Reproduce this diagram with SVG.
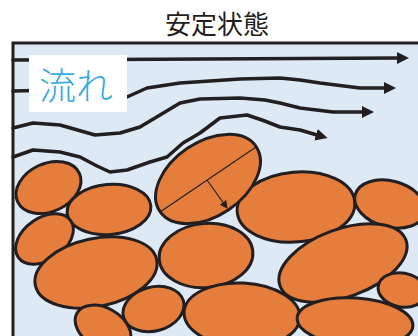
<svg xmlns="http://www.w3.org/2000/svg" width="418" height="336" viewBox="0 0 418 336">
  <style>
    .grain { fill: #e57e3d; stroke: #231f20; stroke-width: 3; }
    .flow { fill: none; stroke: #231f20; stroke-width: 3.5; stroke-linejoin: round; stroke-linecap: round; marker-end: url(#flowHead); }
    .axis { fill: none; stroke: #231f20; stroke-width: 1.2; }
    .title { font-family: "Noto Sans CJK JP", "Noto Sans", sans-serif; font-size: 26px; fill: #231f20; }
    .label { font-family: "Noto Sans CJK JP", "Noto Sans", sans-serif; font-size: 37px; font-weight: 300; fill: #3aaae0; }
  </style>
  <defs>
    <marker id="flowHead" markerUnits="userSpaceOnUse" markerWidth="13" markerHeight="12" refX="1" refY="6" orient="auto">
      <path d="M0,0 L12,6 L0,12 z" fill="#231f20"/>
    </marker>
    <marker id="smallHead" markerUnits="userSpaceOnUse" markerWidth="9" markerHeight="8" refX="7" refY="4" orient="auto">
      <path d="M0,0 L8,4 L0,8 z" fill="#231f20"/>
    </marker>
  </defs>

  <!-- white page -->
  <rect x="0" y="0" width="418" height="336" fill="#ffffff"/>

  <!-- title -->
  <text class="title" x="217" y="34" text-anchor="middle">安定状態</text>

  <!-- vessel -->
  <rect id="vessel" x="13" y="43" width="420" height="310" fill="#dde9f5" stroke="#231f20" stroke-width="3"/>

  <!-- streamlines -->
  <g id="connectors">
    <path class="flow" d="M13,60 L398,58"/>
    <path class="flow" d="M13,91 L60,90 L110,96 L127,97 L147,88 L180,83 L240,79 L280,78 L300,80 L320,83 L360,88 L385,88"/>
    <path class="flow" d="M13,128 L33,123 L60,125 L95,135 L120,133 L140,127 L155,118 L180,103 L200,99 L240,98 L265,100 L280,103 L300,108 L333,112 L363,112"/>
    <path class="flow" d="M13,157 L33,150 L60,152 L80,157 L97,166 L110,172 L127,170 L150,162 L167,157 L183,143 L200,133 L220,118 L247,115 L262,120 L280,127 L300,130 L317,135"/>
  </g>

  <!-- label -->
  <g id="label">
    <rect x="29" y="55" width="98" height="57" fill="#ffffff"/>
    <text class="label" x="39" y="100">流れ</text>
  </g>

  <!-- grains -->
  <g id="grain-1"><ellipse class="grain" cx="48.5" cy="187.5" rx="34" ry="24" transform="rotate(-25 48.5 187.5)"/></g>
  <g id="grain-2"><ellipse class="grain" cx="109" cy="209.5" rx="42" ry="25" transform="rotate(-5 109 209.5)"/></g>
  <g id="grain-3"><ellipse class="grain" cx="44.5" cy="239" rx="32" ry="21" transform="rotate(-35 44.5 239)"/></g>
  <g id="grain-4"><ellipse class="grain" cx="96" cy="272.5" rx="62" ry="34" transform="rotate(-12 96 272.5)"/></g>
  <g id="grain-12"><ellipse class="grain" cx="103" cy="328" rx="30" ry="20" transform="rotate(30 103 328)"/></g>
  <g id="grain-11"><ellipse class="grain" cx="153.5" cy="309" rx="31" ry="22" transform="rotate(-15 153.5 309)"/></g>
  <g id="grain-8"><ellipse class="grain" cx="206" cy="255.5" rx="47" ry="32" transform="rotate(-5 206 255.5)"/></g>
  <g id="grain-13"><ellipse class="grain" cx="242" cy="315" rx="58" ry="32" transform="rotate(3 242 315)"/></g>
  <g id="grain-6"><ellipse class="grain" cx="296" cy="207" rx="59" ry="35" transform="rotate(-5 296 207)"/></g>
  <g id="grain-7"><ellipse class="grain" cx="390" cy="204" rx="36" ry="23" transform="rotate(15 390 204)"/></g>
  <g id="grain-9"><ellipse class="grain" cx="343" cy="263" rx="67" ry="34" transform="rotate(-20 343 263)"/></g>
  <g id="grain-14"><ellipse class="grain" cx="355" cy="322" rx="58" ry="24" transform="rotate(4 355 322)"/></g>
  <g id="grain-10"><ellipse class="grain" cx="402" cy="290" rx="24" ry="17" transform="rotate(10 402 290)"/></g>

  <!-- tilted grain with its axes -->
  <g id="grain-5">
    <ellipse class="grain" cx="208" cy="179" rx="58" ry="37" transform="rotate(-34 208 179)"/>
    <line class="axis" x1="160" y1="212" x2="256" y2="147"/>
    <line class="axis" x1="207" y1="180" x2="227" y2="208" marker-end="url(#smallHead)"/>
  </g>
</svg>
